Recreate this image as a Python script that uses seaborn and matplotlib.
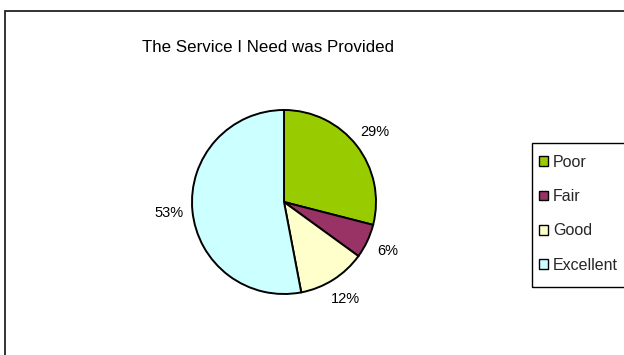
import matplotlib
matplotlib.use("Agg")
import matplotlib.pyplot as plt
import matplotlib.patches as mpatches
import seaborn as sns

categories = ["Poor", "Fair", "Good", "Excellent"]
values = [29, 6, 12, 53]
colors = ["#99CC00", "#993366", "#FFFFCC", "#CCFFFF"]
title = "The Service I Need was Provided"

sns.set_theme(style="white")
plt.rcParams["font.family"] = ["Liberation Sans", "DejaVu Sans"]

W, H = 624, 355
fig = plt.figure(figsize=(W / 100, H / 100), dpi=100)
fig.patch.set_facecolor("white")

# outer chart border
fig.patches.append(mpatches.Rectangle((5 / W, -0.1), 1.2, 1 - 11 / H + 0.1,
                                      transform=fig.transFigure, fill=False,
                                      edgecolor="#222222", linewidth=1.3))
# legend box (extends past the right edge as in the reference)
fig.patches.append(mpatches.Rectangle((532 / W, 1 - 287 / H), 0.3, 144 / H,
                                      transform=fig.transFigure, fill=False,
                                      edgecolor="black", linewidth=1.0))

cx, cy, r = 284, 202, 92
ax = fig.add_axes([(cx - r) / W, (H - cy - r) / H, 2 * r / W, 2 * r / H])
wedges, texts, autotexts = ax.pie(
    values, colors=colors, startangle=90, counterclock=False,
    autopct=lambda p: f"{p:.0f}%", pctdistance=1.25,
    wedgeprops=dict(edgecolor="black", linewidth=1.4),
    textprops=dict(fontsize=10.5, color="black"))
ax.set_xlim(-1, 1)
ax.set_ylim(-1, 1)
ax.set_aspect("equal")
ax.axis("off")

fig.text(268 / W, 1 - 47 / H, title, ha="center", va="center",
         fontsize=12.2, color="black")

handles = [mpatches.Patch(facecolor=c, edgecolor="black", linewidth=1.0)
           for c in colors]
leg = fig.legend(handles, categories, loc="upper left",
                 bbox_to_anchor=(539 / W, 1 - 155 / H),
                 fontsize=11.5, frameon=False,
                 handlelength=0.58, handleheight=0.58, handletextpad=0.3,
                 labelspacing=1.2, borderpad=0, borderaxespad=0)

fig.savefig("out.png", dpi=100, facecolor="white")
